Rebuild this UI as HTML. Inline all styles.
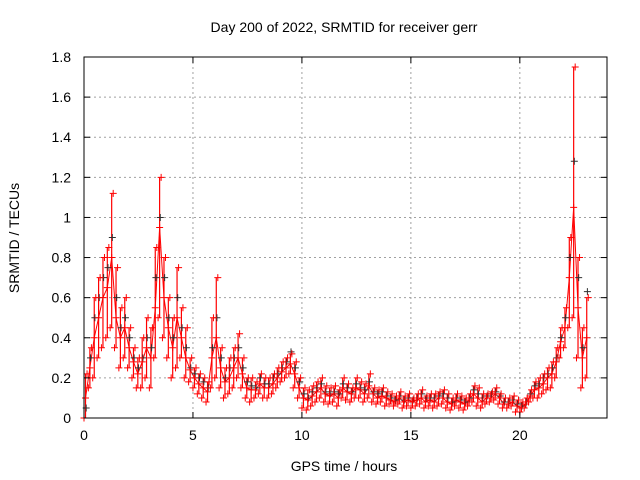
<!DOCTYPE html>
<html><head><meta charset="utf-8"><style>
body{margin:0;background:#fff}
svg{display:block;font-family:"Liberation Sans",sans-serif}
</style></head><body>
<svg id="chart" width="640" height="480">
<text x="344" y="32" text-anchor="middle" font-size="14">Day 200 of 2022, SRMTID for receiver gerr</text>
<text x="344" y="471" text-anchor="middle" font-size="14">GPS time / hours</text>
<text transform="translate(19,238) rotate(-90)" text-anchor="middle" font-size="14">SRMTID / TECUs</text>
<g id="grid"></g><g id="marks"></g><g id="axes"></g>
</svg>
<script>
const xTicks=[0,5,10,15,20];
const yTicks=[0,0.2,0.4,0.6,0.8,1,1.2,1.4,1.6,1.8];
const yTickLabels=["0","0.2","0.4","0.6","0.8","1","1.2","1.4","1.6","1.8"];
const times=[0,0.2,0.4,0.6,0.8,1,1.2,1.4,1.6,1.8,2,2.2,2.4,2.6,2.8,3,3.2,3.4,3.6,3.8,4,4.2,4.4,4.6,4.8,5,5.2,5.4,5.6,5.8,6,6.2,6.4,6.6,6.8,7,7.2,7.4,7.6,7.8,8,8.2,8.4,8.6,8.8,9,9.2,9.4,9.6,9.8,10,10.2,10.4,10.6,10.8,11,11.2,11.4,11.6,11.8,12,12.2,12.4,12.6,12.8,13,13.2,13.4,13.6,13.8,14,14.2,14.4,14.6,14.8,15,15.2,15.4,15.6,15.8,16,16.2,16.4,16.6,16.8,17,17.2,17.4,17.6,17.8,18,18.2,18.4,18.6,18.8,19,19.2,19.4,19.6,19.8,20,20.2,20.4,20.6,20.8,21,21.2,21.4,21.6,21.8,22,22.2,22.4,22.6,22.8,23];
const lowValues=[0,0.15,0.2,0.3,0.35,0.4,0.45,0.35,0.25,0.3,0.25,0.2,0.15,0.15,0.2,0.15,0.3,0.5,0.4,0.3,0.2,0.25,0.3,0.2,0.18,0.15,0.12,0.1,0.08,0.15,0.2,0.15,0.1,0.12,0.15,0.2,0.15,0.1,0.08,0.1,0.12,0.1,0.1,0.12,0.15,0.18,0.2,0.22,0.15,0.1,0.05,0.04,0.06,0.08,0.1,0.08,0.07,0.08,0.06,0.1,0.09,0.08,0.1,0.1,0.08,0.1,0.08,0.07,0.08,0.06,0.07,0.06,0.07,0.05,0.06,0.05,0.06,0.07,0.05,0.06,0.05,0.06,0.07,0.05,0.04,0.06,0.05,0.04,0.06,0.08,0.06,0.05,0.07,0.08,0.09,0.07,0.05,0.05,0.06,0.03,0.03,0.05,0.08,0.1,0.1,0.12,0.14,0.15,0.2,0.3,0.35,0.45,0.5,0.3,0.15,0.2];
const highValues=[0.22,0.35,0.6,0.7,0.8,0.85,1.12,0.75,0.55,0.6,0.45,0.35,0.3,0.4,0.5,0.45,0.85,1.2,0.8,0.6,0.5,0.75,0.55,0.45,0.3,0.25,0.22,0.2,0.18,0.5,0.7,0.35,0.25,0.3,0.35,0.42,0.3,0.2,0.2,0.18,0.22,0.2,0.2,0.22,0.25,0.28,0.3,0.32,0.28,0.2,0.15,0.14,0.16,0.18,0.2,0.16,0.15,0.16,0.14,0.2,0.17,0.15,0.2,0.18,0.17,0.22,0.15,0.14,0.15,0.13,0.12,0.11,0.13,0.11,0.12,0.1,0.12,0.14,0.11,0.12,0.12,0.13,0.14,0.12,0.1,0.12,0.11,0.1,0.12,0.16,0.15,0.12,0.12,0.13,0.15,0.12,0.1,0.1,0.11,0.09,0.08,0.1,0.14,0.18,0.2,0.22,0.25,0.28,0.35,0.45,0.55,0.9,1.75,0.8,0.45,0.6];
const midValues=[0.1,0.25,0.4,0.5,0.6,0.65,0.8,0.5,0.4,0.45,0.35,0.28,0.22,0.28,0.35,0.3,0.55,0.95,0.6,0.45,0.35,0.5,0.4,0.3,0.24,0.2,0.17,0.15,0.13,0.3,0.4,0.25,0.18,0.2,0.25,0.3,0.22,0.15,0.14,0.14,0.17,0.15,0.15,0.17,0.2,0.23,0.25,0.27,0.22,0.15,0.1,0.09,0.11,0.13,0.15,0.12,0.11,0.12,0.1,0.15,0.13,0.12,0.15,0.14,0.12,0.16,0.12,0.1,0.11,0.1,0.09,0.08,0.1,0.08,0.09,0.08,0.09,0.1,0.08,0.09,0.08,0.1,0.1,0.08,0.07,0.09,0.08,0.07,0.09,0.12,0.1,0.08,0.1,0.1,0.12,0.1,0.07,0.07,0.08,0.06,0.05,0.07,0.11,0.14,0.15,0.17,0.2,0.22,0.28,0.38,0.45,0.7,1.05,0.55,0.3,0.4];
const blackValues=[0.05,0.3,0.5,0.6,0.7,0.75,0.9,0.6,0.45,0.5,0.4,0.3,0.25,0.3,0.4,0.35,0.7,1.0,0.7,0.5,0.4,0.6,0.45,0.35,0.25,0.22,0.2,0.18,0.15,0.35,0.5,0.3,0.2,0.25,0.3,0.35,0.25,0.18,0.16,0.15,0.2,0.17,0.17,0.2,0.22,0.25,0.28,0.33,0.25,0.18,0.12,0.1,0.13,0.15,0.17,0.13,0.12,0.13,0.12,0.17,0.15,0.13,0.17,0.15,0.14,0.18,0.13,0.12,0.13,0.11,0.1,0.09,0.11,0.09,0.1,0.09,0.1,0.12,0.1,0.1,0.1,0.11,0.12,0.1,0.08,0.1,0.09,0.08,0.1,0.14,0.12,0.1,0.11,0.12,0.13,0.11,0.08,0.08,0.09,0.07,0.06,0.08,0.12,0.16,0.17,0.2,0.22,0.25,0.3,0.4,0.5,0.8,1.28,0.7,0.35,0.63];
const NS="http://www.w3.org/2000/svg";
const L=84,R=607,T=57,B=418,XMAX=24,YMAX=1.8;
const sx=v=>L+v/XMAX*(R-L), sy=v=>B-v/YMAX*(B-T);
function mk(tag,attrs,parent){const e=document.createElementNS(NS,tag);for(const k in attrs)e.setAttribute(k,attrs[k]);parent.appendChild(e);return e;}
const grid=document.getElementById('grid'),axes=document.getElementById('axes'),marks=document.getElementById('marks');
xTicks.forEach(t=>{const x=sx(t);
 if(t>0){const g=mk('line',{x1:x,x2:x,y1:T,y2:B,stroke:'#a0a0a0','stroke-dasharray':'2,3'},grid);
 
 }
 mk('line',{x1:x,x2:x,y1:B,y2:B-6,stroke:'#000'},axes);mk('line',{x1:x,x2:x,y1:T,y2:T+6,stroke:'#000'},axes);
 const tx=mk('text',{x:x,y:B+22,'text-anchor':'middle','font-size':14},axes);tx.textContent=t;
 
 });
yTicks.forEach((t,i)=>{const y=sy(t);
 if(t>0&&t<YMAX){const g=mk('line',{x1:L,x2:R,y1:y,y2:y,stroke:'#a0a0a0','stroke-dasharray':'2,3'},grid);
 
 }
 mk('line',{x1:L,x2:L+6,y1:y,y2:y,stroke:'#000'},axes);mk('line',{x1:R,x2:R-6,y1:y,y2:y,stroke:'#000'},axes);
 const tx=mk('text',{x:L-13,y:y+5,'text-anchor':'end','font-size':14},axes);tx.textContent=yTickLabels[i];
 
 });
const frame=mk('rect',{x:L,y:T,width:R-L,height:B-T,fill:'none',stroke:'#000'},axes);


function plus(x,y,c){const p=mk('path',{d:`M${x-3.5},${y}h7M${x},${y-3.5}v7`,stroke:c,'stroke-width':1},marks);return p;}
times.forEach((t,i)=>{const b=mk('line',{x1:sx(t+0.07),x2:sx(t+0.07),y1:sy(lowValues[i]),y2:sy(highValues[i]),stroke:'#ff0000','stroke-width':1.2},marks);
 
 });
times.forEach((t,i)=>{if(i===0)return;const b=mk('line',{x1:sx(times[i-1]+0.07),x2:sx(t+0.07),y1:sy(midValues[i-1]),y2:sy(midValues[i]),stroke:'#ff0000','stroke-width':1},marks);
 
 });
times.forEach((t,i)=>{const p=plus(sx(t+0.1),sy(blackValues[i]),'#303030');
 
 });
[lowValues,midValues,highValues].forEach((arr,k)=>{times.forEach((t,i)=>{const p=plus(sx(t+k*0.07),sy(arr[i]),'#ff0000');
 
 });});
</script>
</body></html>
